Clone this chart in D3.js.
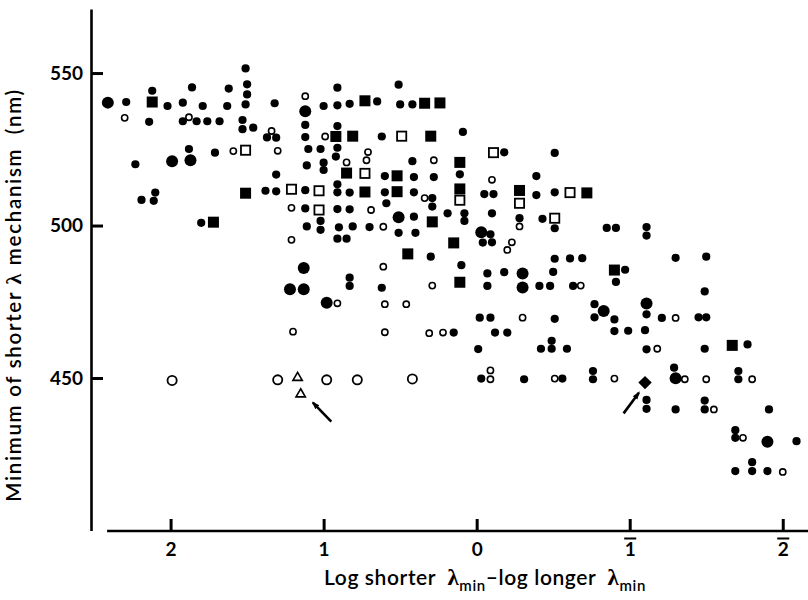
<!DOCTYPE html>
<html>
<head>
<meta charset="utf-8">
<script src="https://cdn.jsdelivr.net/npm/d3@7"></script>
<style>
  body { margin: 0; background: #fff; }
  text { font-family: Lato, "Open Sans", sans-serif; }
</style>
</head>
<body>
<svg id="chart" width="808" height="600"></svg>
<script>
// values: [log shorter lambda_min - log longer lambda_min, nm]
var filledSmall = [
  [2.29,540.5],[2.23,520.1],[2.19,508.4],[2.10,510.8],[2.11,508.1],[2.12,544.2],[2.14,534.0],[2.02,539.2],
  [1.92,540.3],[1.86,545.3],[1.92,534.2],[1.83,534.2],[1.79,539.2],[1.76,534.2],[1.68,534.2],[1.63,539.2],
  [1.62,544.9],[1.88,525.1],[1.71,523.9],[1.80,500.9],[1.51,551.5],[1.50,546.3],[1.50,543.0],[1.51,539.7],
  [1.53,534.6],[1.53,531.6],[1.46,532.1],[1.32,540.1],[1.37,528.9],[1.31,528.8],[1.31,516.7],[1.38,511.4],
  [1.31,511.2],
  [0.91,545.2],[1.00,539.2],[0.91,539.4],[0.83,539.9],[0.65,540.7],[0.51,546.2],[0.50,539.7],[0.42,539.7],
  [1.12,533.0],[0.91,532.6],[1.12,529.0],[0.62,529.2],[0.09,530.7],[1.10,525.1],[1.02,525.1],[0.91,525.5],
  [0.92,522.6],[1.11,519.7],[1.00,520.6],[1.00,518.2],[0.42,521.1],[-0.18,524.0],[-0.51,523.8],[0.60,516.2],
  [0.41,515.9],[0.28,515.9],[0.11,516.8],[-0.39,516.2],[1.12,511.6],[0.91,513.5],[0.91,510.9],[0.83,510.8],
  [0.60,510.9],[0.41,510.9],[0.29,509.0],[0.29,506.2],[-0.05,510.3],[-0.11,510.3],[-0.39,510.0],[-0.51,510.9],
  [1.12,505.6],[0.91,505.4],[0.83,505.3],[0.59,507.3],[0.41,502.9],[0.19,504.0],[0.08,504.0],[0.08,501.5],
  [-0.10,504.0],[-0.28,502.4],[-0.43,502.2],[-0.51,499.1],[1.11,499.7],[1.02,501.5],[1.02,498.6],[0.90,499.4],
  [0.81,499.7],[0.70,499.5],[0.51,497.6],[0.40,497.6],[0.91,495.7],[0.85,495.7],[-0.09,497.1],[-0.04,494.4],
  [-0.10,494.5],[0.30,489.8],[0.10,487.0],[-0.51,489.1],[0.83,482.9],[0.83,480.2],[0.62,479.6],[-0.07,484.3],
  [-0.07,480.2],[-0.18,484.7],[-0.41,480.2],[-0.48,480.2],[-0.50,484.8],
  [-0.85,499.2],[-0.91,499.2],[-1.11,499.5],[-1.11,496.7],[-0.61,489.2],[-0.69,489.3],[-1.30,489.4],[-1.50,489.8],
  [-0.97,485.5],[-0.91,481.5],[-0.63,480.2],[-1.49,478.4],[-0.77,474.2],[-0.77,469.9],[-0.90,469.2],[-1.11,470.9],
  [-1.21,469.7],[-1.45,469.9],[-1.50,469.9],[-0.51,469.4],[-0.90,465.4],[-0.99,465.5],[-1.10,465.7],[-0.49,462.2],
  [-0.49,459.6],[-0.42,459.6],[-0.59,459.6],[-1.11,459.4],[-1.49,459.6],[-1.77,461.0],[-0.56,449.8],[-0.76,452.3],
  [-0.76,449.6],[-1.29,453.4],[-1.71,452.3],[-1.71,449.6],
  [0.15,464.9],[-0.02,469.8],[-0.09,469.8],[-0.12,464.9],[-0.20,464.9],[-0.01,459.5],[-0.03,449.8],[-0.31,449.6],
  [-1.11,442.8],[-1.11,439.9],[-1.30,439.7],[-1.49,442.6],[-1.49,439.7],[-1.91,439.7],[-1.69,432.9],[-1.69,430.4],
  [-2.09,429.3],[-1.69,419.5],[-1.80,422.4],[-1.80,419.5],[-1.90,419.5]
];

var filledLarge = [
  [2.41,540.3],[1.99,521.1],[1.87,521.4],[1.12,537.5],[0.51,502.7],[-0.03,497.8],[1.13,486.1],[-0.30,484.3],
  [-0.30,479.7],[1.22,479.1],[1.13,479.1],[0.98,474.7],[-0.83,472.0],[-1.11,474.4],[-1.30,449.9],[-1.90,429.1]
];

var openSmall = [
  [2.30,535.3],[1.88,535.5],[1.59,524.4],[1.34,531.0],[1.30,524.5],[1.21,505.8],[1.21,495.3],[1.12,542.4],
  [0.99,529.2],[0.71,524.1],[0.72,521.4],[0.85,520.7],[0.28,521.4],[-0.10,515.0],[0.34,509.0],[0.69,505.1],
  [-0.28,499.7],[0.61,499.6],[-0.23,494.5],[-0.20,492.0],[0.61,486.5],[0.29,480.3],[-0.68,480.3],[0.91,474.5],
  [0.60,474.2],[0.46,474.2],[1.20,465.2],[0.60,465.0],[0.31,464.7],[0.22,464.9],[-0.30,469.8],[-1.30,469.7],
  [-1.18,459.6],[-0.51,449.8],[-0.90,449.8],[-1.36,449.6],[-1.50,449.6],[-1.80,449.6],[-0.09,452.5],[-0.09,449.6],
  [-1.55,439.7],[-1.74,430.4],[-2.00,419.2]
];

var openLarge = [[1.99,449.2],[1.30,449.4],[0.98,449.4],[0.78,449.4],[0.42,449.7]];

var filledSquare = [
  [2.12,540.5],[1.72,501.1],[1.51,510.6],[0.73,540.9],[0.34,540.1],[0.24,540.2],[0.92,529.2],[0.81,529.3],
  [0.30,529.3],[0.11,520.7],[0.85,517.2],[0.52,516.3],[0.73,511.0],[0.52,511.1],[0.11,512.0],[-0.28,511.5],
  [0.29,501.2],[0.15,494.3],[0.45,490.7],[0.11,481.4],[-0.72,510.7],[-0.90,485.4],[-1.67,460.7]
];

var openSquare = [
  [1.51,524.7],[1.21,511.9],[0.49,529.3],[-0.11,523.9],[0.73,517.1],[1.03,511.4],[0.11,508.3],[-0.28,507.3],
  [1.03,505.1],[-0.51,502.4],[-0.61,510.8]
];

var openTriangle = [[1.17,450.1],[1.15,444.7]];
var filledDiamond = [[-1.10,448.5]];

// annotation arrows: [tail, head]
var arrows = [
  [[0.95,435.7],[1.07,441.9]],
  [[-0.96,438.4],[-1.06,445.2]]
];

var yTicks = [450, 500, 550];
var xTicks = [2, 1, 0, -1, -2];
var xAxisStart = 2.415;

var svg = d3.select("#chart");

var x = d3.scaleLinear().domain([2.52, -2.165]).range([91, 808]);
var y = d3.scaleLinear().domain([400, 571]).range([530.5, 9]);

// y axis
var yAxis = svg.append("g")
    .attr("transform", "translate(91,0)")
    .call(d3.axisLeft(y).tickValues(yTicks).tickSize(-12).tickSizeOuter(0).tickPadding(8));
yAxis.select(".domain").attr("stroke", "#000").attr("stroke-width", 2.6);
yAxis.selectAll(".tick line").attr("stroke", "#000").attr("stroke-width", 3);
yAxis.selectAll(".tick text")
    .attr("font-size", 19).attr("font-weight", "bold").attr("fill", "#000")
    .style("font-family", "Lato, sans-serif");

// x axis
var xAxis = svg.append("g")
    .attr("transform", "translate(0,531)")
    .call(d3.axisBottom(x).tickValues(xTicks).tickSize(-12).tickSizeOuter(0).tickPadding(12)
      .tickFormat(function(d) { return Math.abs(d); }));
xAxis.select(".domain").remove();
xAxis.append("line")
    .attr("x1", x(xAxisStart)).attr("x2", x.range()[1])
    .attr("stroke", "#000").attr("stroke-width", 2.6);
xAxis.selectAll(".tick line").attr("stroke", "#000").attr("stroke-width", 3);
xAxis.selectAll(".tick text")
    .attr("font-size", 19).attr("font-weight", "bold").attr("fill", "#000")
    .style("font-family", "Lato, sans-serif");
// bar notation for negative logs
xAxis.selectAll(".tick").filter(function(d) { return d < 0; }).each(function() {
  var t = d3.select(this).select("text").node().getBBox();
  d3.select(this).append("line")
      .attr("x1", t.x - 0.5).attr("x2", t.x + t.width + 0.5)
      .attr("y1", t.y + 1).attr("y2", t.y + 1)
      .attr("stroke", "#000").attr("stroke-width", 2);
});

// axis titles
svg.append("text")
    .attr("transform", "translate(21,295) rotate(-90)")
    .attr("text-anchor", "middle")
    .attr("font-size", 20.5).attr("font-weight", 600)
    .attr("letter-spacing", 1.7)
    .attr("xml:space", "preserve")
    .html('Minimum of shorter <tspan style="font-family:\'Liberation Serif\',serif" font-size="22">λ</tspan> mechanism  (nm)');

var xt = svg.append("text")
    .attr("x", 485).attr("y", 585)
    .attr("text-anchor", "middle")
    .attr("font-size", 21).attr("font-weight", 600)
    .attr("letter-spacing", 0.6)
    .attr("xml:space", "preserve");
xt.append("tspan").text("Log shorter  ");
xt.append("tspan").style("font-family", "'Liberation Serif', serif").attr("font-size", 23).text("λ");
xt.append("tspan").attr("font-size", 15).attr("dy", 6).text("min");
xt.append("tspan").attr("dy", -6).text("–log longer  ");
xt.append("tspan").style("font-family", "'Liberation Serif', serif").attr("font-size", 23).text("λ");
xt.append("tspan").attr("font-size", 15).attr("dy", 6).text("min");

var marks = svg.append("g");

marks.selectAll(".fs").data(filledSmall).enter().append("circle")
    .attr("cx", function(d) { return x(d[0]); }).attr("cy", function(d) { return y(d[1]); })
    .attr("r", 4.1).attr("fill", "#000");

marks.selectAll(".fl").data(filledLarge).enter().append("circle")
    .attr("cx", function(d) { return x(d[0]); }).attr("cy", function(d) { return y(d[1]); })
    .attr("r", 6).attr("fill", "#000");

marks.selectAll(".os").data(openSmall).enter().append("circle")
    .attr("cx", function(d) { return x(d[0]); }).attr("cy", function(d) { return y(d[1]); })
    .attr("r", 3.1).attr("fill", "#fff").attr("stroke", "#000").attr("stroke-width", 1.6);

marks.selectAll(".ol").data(openLarge).enter().append("circle")
    .attr("cx", function(d) { return x(d[0]); }).attr("cy", function(d) { return y(d[1]); })
    .attr("r", 4.6).attr("fill", "#fff").attr("stroke", "#000").attr("stroke-width", 1.8);

marks.selectAll(".sq").data(filledSquare).enter().append("rect")
    .attr("x", function(d) { return x(d[0]) - 5.5; }).attr("y", function(d) { return y(d[1]) - 5.5; })
    .attr("width", 11).attr("height", 11).attr("fill", "#000");

marks.selectAll(".osq").data(openSquare).enter().append("rect")
    .attr("x", function(d) { return x(d[0]) - 4.6; }).attr("y", function(d) { return y(d[1]) - 4.6; })
    .attr("width", 9.2).attr("height", 9.2)
    .attr("fill", "#fff").attr("stroke", "#000").attr("stroke-width", 1.8);

marks.selectAll(".tri").data(openTriangle).enter().append("path")
    .attr("d", d3.symbol(d3.symbolTriangle).size(38))
    .attr("transform", function(d) { return "translate(" + x(d[0]) + "," + y(d[1]) + ")"; })
    .attr("fill", "#fff").attr("stroke", "#000").attr("stroke-width", 1.6);

marks.selectAll(".dia").data(filledDiamond).enter().append("path")
    .attr("d", d3.symbol(d3.symbolSquare).size(90))
    .attr("transform", function(d) { return "translate(" + x(d[0]) + "," + y(d[1]) + ") rotate(45)"; })
    .attr("fill", "#000");

// arrows
svg.append("defs").append("marker")
    .attr("id", "head").attr("markerUnits", "userSpaceOnUse")
    .attr("viewBox", "0 0 10 10").attr("refX", 8).attr("refY", 5)
    .attr("markerWidth", 8).attr("markerHeight", 8).attr("orient", "auto")
  .append("path").attr("d", "M0,1.5 L10,5 L0,8.5 Z").attr("fill", "#000");

svg.append("g").selectAll("line").data(arrows).enter().append("line")
    .attr("x1", function(d) { return x(d[0][0]); }).attr("y1", function(d) { return y(d[0][1]); })
    .attr("x2", function(d) { return x(d[1][0]); }).attr("y2", function(d) { return y(d[1][1]); })
    .attr("stroke", "#000").attr("stroke-width", 2.6)
    .attr("marker-end", "url(#head)");
</script>
</body>
</html>
